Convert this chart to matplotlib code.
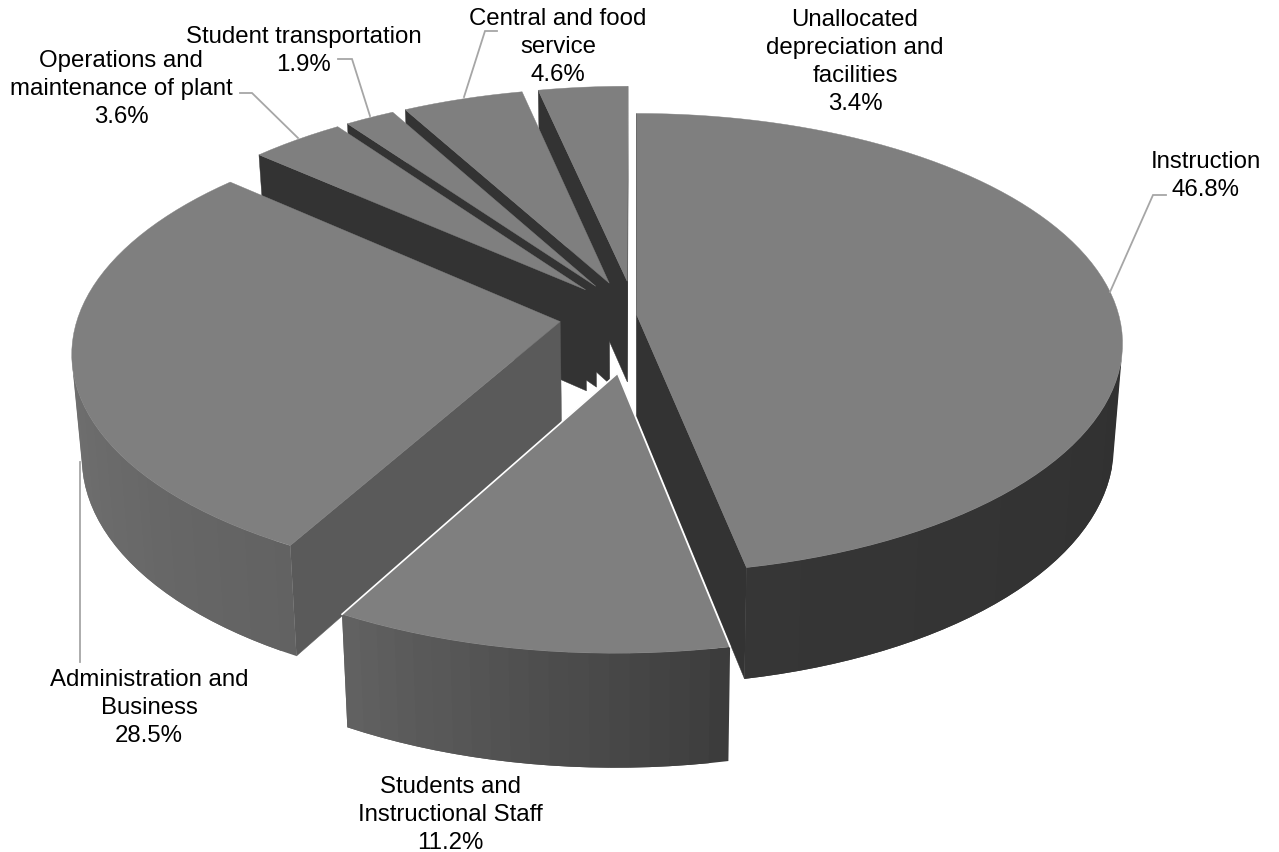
import numpy as np
import matplotlib
matplotlib.use("Agg")
import matplotlib.pyplot as plt

plt.rcParams['font.family'] = ['Liberation Sans', 'DejaVu Sans']

# clockwise from 12 o'clock
categories = [["Instruction"], ["Students and", "Instructional Staff"], ["Administration and", "Business"],
              ["Operations and", "maintenance of plant"], ["Student transportation"], ["Central and food", "service"],
              ["Unallocated", "depreciation and", "facilities"]]
values = [46.8, 11.2, 28.5, 3.6, 1.9, 4.6, 3.4]
explode = [0.004, 0.25, 0.157, 0.155, 0.155, 0.155, 0.155]
nudge = [0, 0.0025, 0, 0, 0, 0, 0]
radius = [1, 1.014, 1, 1, 1, 1, 1]

# label centre x and first baseline in pixels, then the leader line
label_pos = [(1206, 168), (450, 793), (149, 686), (121, 67), (304, 43), (558, 25), (855, 26)]
leaders = [[(1110, 293), (1153, 196), (1166, 196)],
           None,
           [(80, 463), (80, 663)],
           [(298, 139), (252, 94), (240, 94)],
           [(370, 117), (352, 60), (338, 60)],
           [(464, 98), (485, 32), (497, 32)],
           None]
LINE_STEP = 28

# projection of the pie
X0, Y0 = 635, 316.5
RX, RY = 482, 226.6
PERSP = 0.122
DEPTH = 102
SHRINK = 0.982

TOP = "#7f7f7f"


def project(x, z, bottom=False):
    w = 1 / (1 - PERSP * z)
    if bottom:
        return X0 + SHRINK * RX * x * w, Y0 + (SHRINK * RY * z + DEPTH) * w
    return X0 + RX * x * w, Y0 + RY * z * w


def wall_shade(deg):
    g = np.interp(deg, [90, 168, 170, 209, 270, 320], [48, 54, 62, 98, 114, 118])
    return (g / 255, g / 255, g / 255)


def is_visible(p):
    # shoelace, y points down on the screen
    area = 0
    for i in range(len(p)):
        a, b = p[i], p[(i + 1) % len(p)]
        area += a[0] * b[1] - b[0] * a[1]
    return area < 0


fig = plt.figure(figsize=(12.79, 8.53), dpi=100)
ax = fig.add_axes([0, 0, 1, 1])
ax.set_xlim(0, 1279)
ax.set_ylim(853, 0)
ax.axis("off")

edges = np.cumsum([0] + values) / sum(values) * 360

# back slices first, then the large ones in front
order = [6, 5, 4, 3, 2, 0, 1]
for i in order:
    start, end = edges[i], edges[i + 1]
    mid = np.radians((start + end) / 2)
    ox, oz = explode[i] * np.sin(mid) + nudge[i], -explode[i] * np.cos(mid)

    n = max(int((end - start) / 2), 3)
    deg = np.linspace(start, end, n + 1)
    xs = ox + radius[i] * np.sin(np.radians(deg))
    zs = oz - radius[i] * np.cos(np.radians(deg))
    px, py = project(xs, zs)
    bx, by = project(xs, zs, bottom=True)
    ax_top, ay_top = project(ox, oz)
    ax_bot, ay_bot = project(ox, oz, bottom=True)

    cut = "#5a5a5a" if i == 2 else "#333333"

    # straight cut walls
    q1 = [(ax_top, ay_top), (px[0], py[0]), (bx[0], by[0]), (ax_bot, ay_bot)]
    q2 = [(px[-1], py[-1]), (ax_top, ay_top), (ax_bot, ay_bot), (bx[-1], by[-1])]
    for q in (q1, q2):
        if is_visible(q):
            ax.fill(*zip(*q), color=cut, lw=0.3)

    # curved outer wall, each band runs under the next one so no seams show
    for j in range(n):
        k = min(j + 2, n)
        q = [(px[j], py[j]), (px[j + 1], py[j + 1]), (bx[j + 1], by[j + 1]), (bx[j], by[j])]
        if is_visible(q):
            band = list(zip(px[j:k + 1], py[j:k + 1])) + list(zip(bx[j:k + 1], by[j:k + 1]))[::-1]
            ax.fill(*zip(*band), facecolor=wall_shade((deg[j] + deg[j + 1]) / 2), edgecolor="none")

    ax.fill(np.r_[ax_top, px], np.r_[ay_top, py], color=TOP, lw=0.3)

    # thin white gap along the pulled out slice
    if i == 1:
        ax.plot([px[0], ax_top, px[-1]], [py[0], ay_top, py[-1]], color="white", lw=1.2)

for i in range(len(values)):
    if leaders[i] is not None:
        ax.plot(*zip(*leaders[i]), color="#a6a6a6", lw=1.3, solid_joinstyle="miter")
    lines = categories[i] + [f"{values[i]}%"]
    for k, line in enumerate(lines):
        ax.text(label_pos[i][0], label_pos[i][1] + k * LINE_STEP, line, ha="center", va="baseline",
                fontsize=17.3, color="black")

plt.savefig("out.png", dpi=100)
